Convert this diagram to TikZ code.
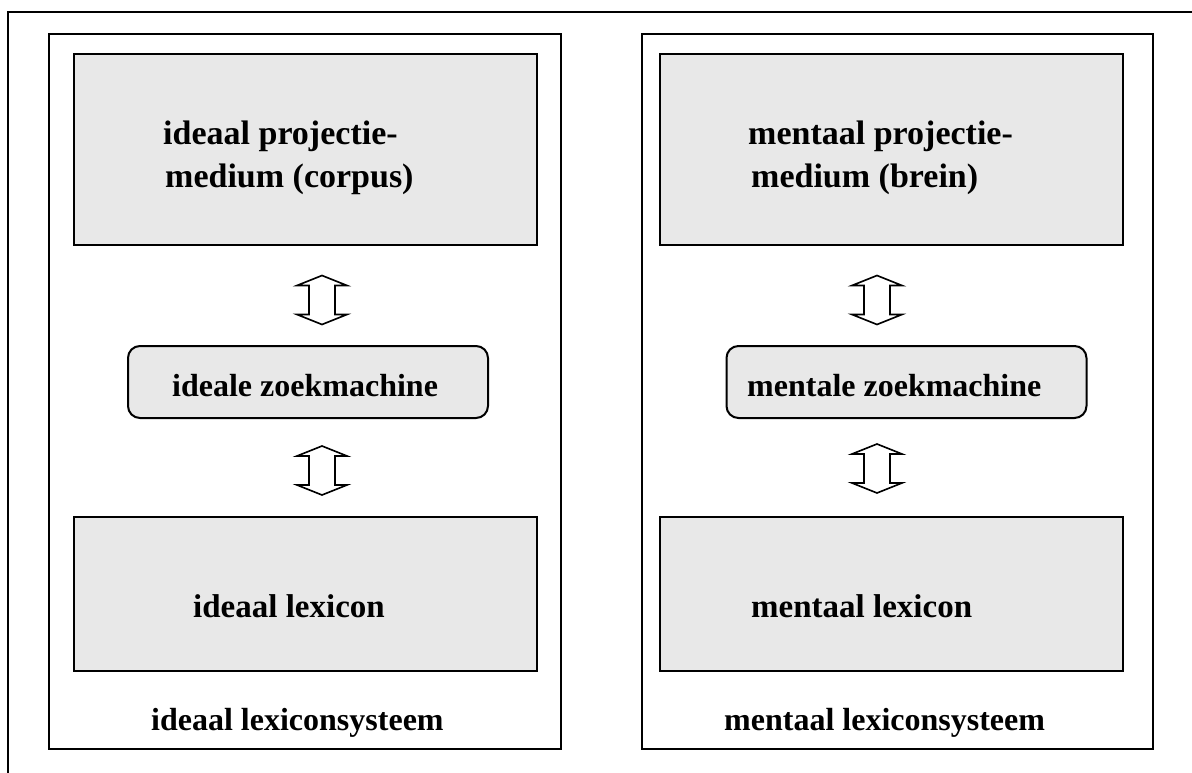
\documentclass[tikz,border=0pt]{standalone}
\usepackage{fontspec}
\setmainfont{Liberation Serif}
\begin{document}
\begin{tikzpicture}[x=1pt,y=-1pt,
  frame/.style={line width=2pt,draw=black},
  panel/.style={draw=black,line width=2pt,inner sep=0pt},
  box/.style={draw=black,line width=2pt,fill=boxgray,inner sep=0pt},
  engine/.style={box,rounded corners=12pt},
  lbl/.style={inner sep=0pt,font=\fontsize{32}{45}\selectfont\bfseries,anchor=base west},
  biglbl/.style={lbl,font=\fontsize{34}{45}\selectfont\bfseries},
  midlbl/.style={lbl,font=\fontsize{33}{45}\selectfont\bfseries},
  arrowline/.style={draw=black,line width=1.6pt,fill=white,line join=miter},
  pics/updown/.style={code={
    \draw[arrowline] (0,-24.5) -- (25,-14.5) -- (13,-14.5) -- (13,14.5) -- (25,14.5)
      -- (0,24.5) -- (-25,14.5) -- (-13,14.5) -- (-13,-14.5) -- (-25,-14.5) -- cycle;
  }}]
\definecolor{boxgray}{HTML}{E8E8E8}
\useasboundingbox (0,0) rectangle (1192,773);

% outer frame (top and left edges)
\coordinate (fTL) at (8,12);
\coordinate (fTR) at (1192,12);
\coordinate (fBL) at (8,773);
\draw[frame] (fTR) -- (fTL) -- (fBL);

% the two lexicon systems
\node[panel,minimum width=512,minimum height=715] (panelL) at (305,391.5) {};
\node[panel,minimum width=511,minimum height=715] (panelR) at (897.5,391.5) {};

% projection media
\node[box,minimum width=463,minimum height=191] (topL) at (305.5,149.5) {};
\node[box,minimum width=463,minimum height=191] (topR) at (891.5,149.5) {};

% search engines
\node[engine,minimum width=360,minimum height=72] (engL) at (308,382) {};
\node[engine,minimum width=360,minimum height=72] (engR) at (906.5,382) {};

% lexicons
\node[box,minimum width=463,minimum height=154] (botL) at (305.5,594) {};
\node[box,minimum width=463,minimum height=154] (botR) at (891.5,594) {};

% two-way arrows between the layers
\pic at (322,300) {updown};
\pic at (322,470.5) {updown};
\pic at (877,300) {updown};
\pic at (877,468.5) {updown};

% labels
\node[biglbl] (tL1) at (163,145) {ideaal projectie-};
\node[biglbl] (tL2) at (165,188) {medium (corpus)};
\node[biglbl] (tR1) at (748,145) {mentaal projectie-};
\node[biglbl] (tR2) at (751,188) {medium (brein)};
\node[lbl] (eL) at (172,396) {ideale zoekmachine};
\node[lbl] (eR) at (747,396) {mentale zoekmachine};
\node[midlbl] (bL) at (193,617) {ideaal lexicon};
\node[midlbl] (bR) at (751,617) {mentaal lexicon};
\node[lbl] (sL) at (151,730) {ideaal lexiconsysteem};
\node[lbl] (sR) at (724,730) {mentaal lexiconsysteem};
\end{tikzpicture}
\end{document}
